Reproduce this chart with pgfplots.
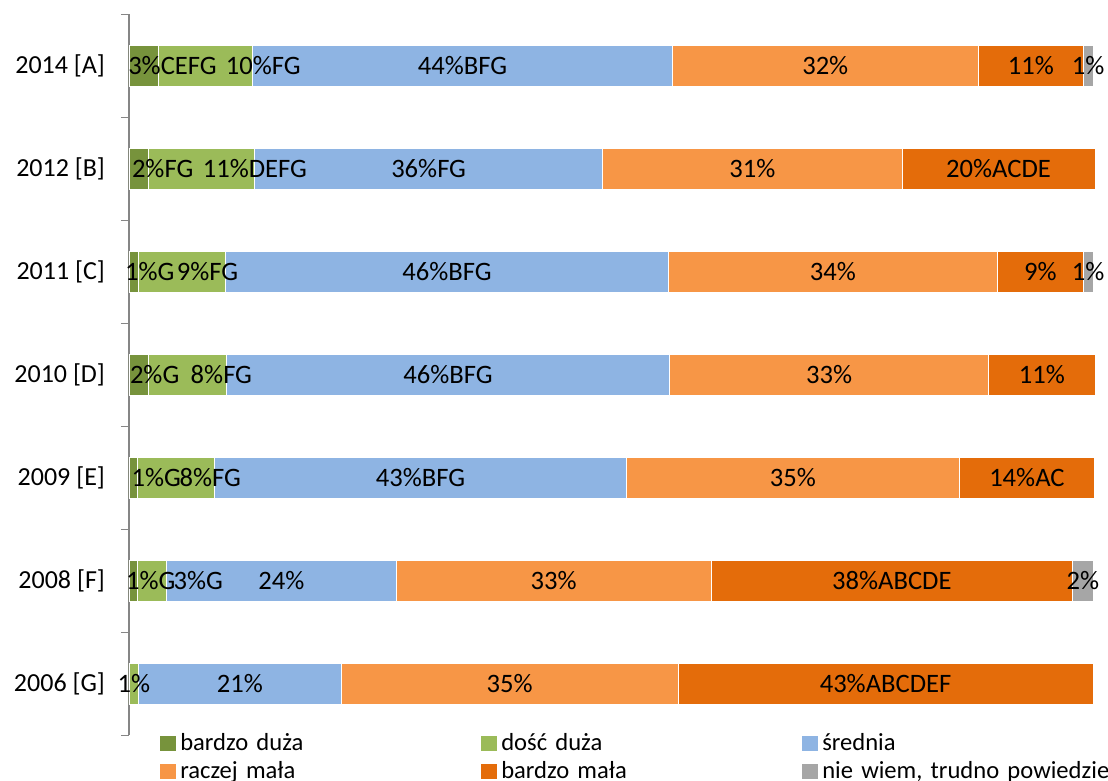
\documentclass[border=0pt]{standalone}
\usepackage{fontspec}
\setmainfont{Carlito}
\usepackage{pgfplots}
\usepackage{pgfplotstable}
\pgfplotsset{compat=1.18}
\definecolor{c1}{HTML}{77933C}
\definecolor{c2}{HTML}{9BBB59}
\definecolor{c3}{HTML}{8EB4E3}
\definecolor{c4}{HTML}{F79646}
\definecolor{c5}{HTML}{E46C0A}
\definecolor{c6}{HTML}{A6A6A6}
\definecolor{axgray}{HTML}{868686}

% y: 0=2006 [G], 1=2008 [F], 2=2009 [E], 3=2010 [D], 4=2011 [C], 5=2012 [B], 6=2014 [A]
% \hskip 2d in front of a label moves it d to the right of the segment centre
\pgfplotstableread{
y val lab
0 0   {}
1 0.9 \hskip17.5pt\relax1\%G
2 0.9 \hskip23pt\relax1\%G
3 2.0 \hskip16pt\relax2\%G
4 1.0 \hskip16pt\relax1\%G
5 2.0 \hskip24pt\relax2\%FG
6 3.0 \hskip29pt\relax3\%CEFG
}\sA
\pgfplotstableread{
y val lab
0 1.0 1\%
1 3.0 \hskip46pt\relax3\%G
2 8.0 \hskip34pt\relax8\%FG
3 8.1 \hskip34pt\relax8\%FG
4 9.0 \hskip25.5pt\relax9\%FG
5 11.0 \hskip53.5pt\relax11\%DEFG
6 9.8 \hskip58pt\relax10\%FG
}\sB
\pgfplotstableread{
y val lab
0 21.0 21\%
1 23.8 24\%
2 42.6 43\%BFG
3 45.9 46\%BFG
4 45.9 46\%BFG
5 36.1 36\%FG
6 43.5 44\%BFG
}\sC
\pgfplotstableread{
y val lab
0 34.9 35\%
1 32.6 33\%
2 34.6 35\%
3 33.1 33\%
4 34.1 34\%
5 31.0 31\%
6 31.7 32\%
}\sD
\pgfplotstableread{
y val lab
0 43.0 43\%ABCDEF
1 37.5 38\%ABCDE
2 13.9 14\%AC
3 11.0 11\%
4 8.9 9\%
5 20.0 20\%ACDE
6 10.9 11\%
}\sE
\pgfplotstableread{
y val lab
0 0 {}
1 2.1 2\%
2 0 {}
3 0 {}
4 1.0 1\%
5 0 {}
6 1.0 1\%
}\sF

\begin{document}
\begin{tikzpicture}
\begin{axis}[
  name=ax,
  xbar stacked,
  x=4.825pt, y=51.5pt,
  xmin=0, xmax=100, ymin=-0.5, ymax=6.5,
  bar width=20.5pt,
  axis x line=none,
  axis y line=left,
  y axis line style={draw=axgray, line width=0.9pt, -},
  ytick={0,...,6},
  yticklabels={2006 [G],2008 [F],2009 [E],2010 [D],2011 [C],2012 [B],2014 [A]},
  major tick length=0pt,
  minor ytick={-0.5,0.5,...,6.5},
  minor tick length=4pt,
  tick align=outside,
  minor tick style={draw=axgray, line width=0.9pt},
  yticklabel style={font=\fontsize{13}{15}\selectfont, xshift=-8.5pt},
  clip=false,
  point meta=explicit symbolic,
  nodes near coords,
  every node near coord/.append style={anchor=center, text=black,
     font=\fontsize{13.3}{15}\selectfont},
  legend columns=3,
  legend cell align=left,
  legend style={draw=none, fill=none, at={(0.032,0)}, anchor=north west,
     yshift=1.5pt, inner sep=0pt, column sep=0pt, row sep=2pt,
     font=\fontsize{12.3}{14}\selectfont,
     nodes={inner ysep=0pt, inner xsep=2pt, text height=9pt, text depth=3pt, text width=148.5pt}},
  legend image code/.code={\path[#1,draw=none] (0pt,-3pt) rectangle (8pt,4.5pt);},
]
\addplot[fill=c1, draw=white, line width=0.4pt] table[x=val, y=y, meta=lab] {\sA};
\addplot[fill=c2, draw=white, line width=0.4pt] table[x=val, y=y, meta=lab] {\sB};
\addplot[fill=c3, draw=white, line width=0.4pt] table[x=val, y=y, meta=lab] {\sC};
\addplot[fill=c4, draw=white, line width=0.4pt] table[x=val, y=y, meta=lab] {\sD};
\addplot[fill=c5, draw=white, line width=0.4pt] table[x=val, y=y, meta=lab] {\sE};
\addplot[fill=c6, draw=white, line width=0.4pt] table[x=val, y=y, meta=lab] {\sF};
\legend{bardzo duża, dość duża, średnia, raczej mała, bardzo mała, {\mbox{nie wiem, trudno powiedzieć}}}
\end{axis}
\pgfresetboundingbox
\path ([xshift=-64.5pt, yshift=-22.75pt]ax.south west) rectangle ([xshift=7pt, yshift=7.25pt]ax.north east);
\end{tikzpicture}
\end{document}
